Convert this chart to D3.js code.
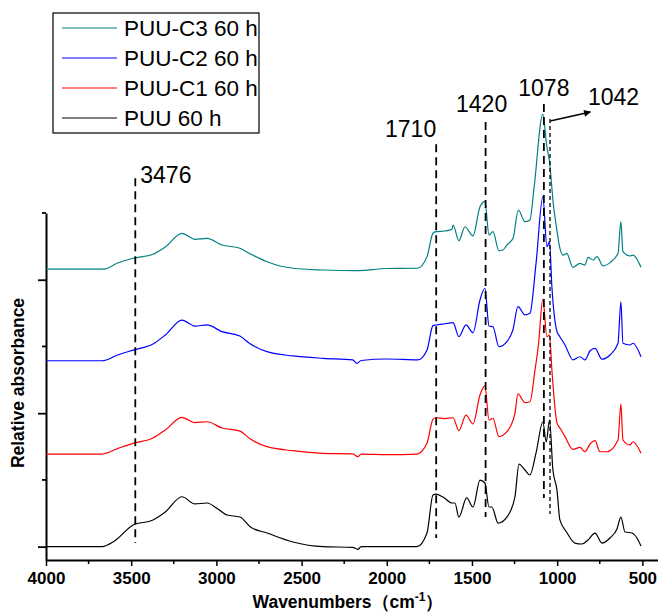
<!DOCTYPE html>
<html>
<head>
<meta charset="utf-8">
<script src="https://cdn.jsdelivr.net/npm/d3@7"></script>
<style>
  body { margin: 0; background: #fff; }
  text { font-family: Arial, "Liberation Sans", Helvetica, sans-serif; }
</style>
</head>
<body>
<svg id="chart" width="658" height="613"></svg>
<script>
/// data ///
// [wavenumber (cm-1), relative absorbance], stacked offsets included
const seriesNames = ["PUU-C3 60 h", "PUU-C2 60 h", "PUU-C1 60 h", "PUU 60 h"];

const puu = [
  [4000, 0.0], [3800, 0.0], [3671, 0.0], [3600, 0.04], [3489, 0.162], [3372, 0.20],
  [3300, 0.26], [3202, 0.374], [3126, 0.32], [3055, 0.327], [3000, 0.29], [2967, 0.26],
  [2938, 0.237], [2862, 0.222], [2800, 0.147], [2703, 0.102], [2551, 0.035], [2374, 0.0],
  [2200, -0.005], [2170, -0.02], [2150, 0.0], [2000, 0.0], [1823, 0.0], [1764, 0.102],
  [1729, 0.387], [1711, 0.394], [1670, 0.372], [1617, 0.327], [1600, 0.327], [1577, 0.222],
  [1531, 0.365], [1494, 0.297], [1453, 0.499], [1424, 0.477], [1400, 0.297], [1383, 0.297],
  [1347, 0.177], [1295, 0.222], [1248, 0.372], [1224, 0.619], [1189, 0.574], [1160, 0.537],
  [1124, 0.702], [1084, 0.934], [1064, 0.784], [1045, 0.949], [1025, 0.574], [1001, 0.424],
  [984, 0.20], [945, 0.11], [896, 0.027], [855, 0.02], [819, 0.05], [778, 0.102],
  [737, 0.027], [690, 0.065], [649, 0.132], [626, 0.222], [602, 0.11], [561, 0.102],
  [532, 0.065], [508, 0.005]
];

const puuC1 = [
  [4000, 0.694], [3671, 0.694], [3580, 0.735], [3489, 0.774], [3372, 0.814], [3300, 0.874],
  [3202, 0.969], [3126, 0.929], [3055, 0.936], [2967, 0.889], [2862, 0.866], [2800, 0.806],
  [2703, 0.749], [2551, 0.719], [2374, 0.699], [2200, 0.695], [2170, 0.674], [2150, 0.694],
  [2000, 0.69], [1823, 0.694], [1764, 0.774], [1729, 0.954], [1711, 0.966], [1660, 0.96],
  [1611, 0.966], [1577, 0.869], [1535, 0.986], [1494, 0.919], [1453, 1.136], [1424, 1.204],
  [1400, 0.949], [1377, 0.962], [1342, 0.824], [1295, 0.861], [1248, 0.999], [1230, 1.144],
  [1189, 1.079], [1160, 1.086], [1130, 1.324], [1110, 1.511], [1084, 1.853], [1060, 1.573],
  [1045, 1.586], [1031, 1.324], [1001, 0.926], [984, 0.889], [954, 0.824], [907, 0.729],
  [866, 0.744], [837, 0.711], [807, 0.769], [778, 0.794], [749, 0.711], [708, 0.711],
  [643, 0.799], [626, 1.069], [614, 0.799], [573, 0.762], [555, 0.786], [508, 0.699]
];

const puuC2 = [
  [4000, 1.393], [3671, 1.393], [3580, 1.436], [3489, 1.473], [3372, 1.518], [3300, 1.586],
  [3202, 1.698], [3126, 1.653], [3055, 1.661], [2967, 1.611], [2862, 1.578], [2800, 1.518],
  [2703, 1.461], [2551, 1.429], [2374, 1.411], [2200, 1.40], [2175, 1.374], [2150, 1.395],
  [2000, 1.406], [1817, 1.399], [1764, 1.473], [1729, 1.656], [1711, 1.661], [1660, 1.67],
  [1611, 1.678], [1577, 1.573], [1535, 1.661], [1494, 1.603], [1453, 1.848], [1424, 1.936],
  [1400, 1.653], [1377, 1.648], [1342, 1.498], [1295, 1.536], [1260, 1.623], [1230, 1.798],
  [1189, 1.736], [1160, 1.748], [1124, 2.123], [1084, 2.622], [1060, 2.247], [1045, 2.285],
  [1031, 1.948], [1001, 1.611], [984, 1.573], [954, 1.511], [907, 1.399], [866, 1.423],
  [837, 1.399], [807, 1.468], [778, 1.486], [737, 1.404], [690, 1.436], [643, 1.524],
  [626, 1.835], [614, 1.524], [573, 1.511], [555, 1.524], [508, 1.423]
];

const puuC3 = [
  [4000, 2.08], [3660, 2.08], [3580, 2.125], [3489, 2.161], [3372, 2.191], [3300, 2.245],
  [3202, 2.348], [3126, 2.303], [3055, 2.31], [2967, 2.26], [2862, 2.236], [2800, 2.193],
  [2703, 2.135], [2551, 2.086], [2374, 2.073], [2175, 2.068], [2000, 2.084], [1820, 2.086],
  [1764, 2.173], [1729, 2.348], [1711, 2.36], [1660, 2.365], [1617, 2.378], [1611, 2.41],
  [1577, 2.292], [1541, 2.397], [1494, 2.328], [1453, 2.547], [1424, 2.585], [1400, 2.335],
  [1377, 2.36], [1342, 2.218], [1318, 2.223], [1295, 2.26], [1259, 2.31], [1228, 2.522],
  [1189, 2.435], [1160, 2.448], [1136, 2.685], [1084, 3.24], [1062, 3.01], [1045, 2.884],
  [1022, 2.56], [1003, 2.385], [988, 2.26], [965, 2.185], [944, 2.198], [907, 2.093],
  [866, 2.123], [837, 2.11], [819, 2.168], [790, 2.148], [766, 2.173], [731, 2.103],
  [690, 2.128], [643, 2.198], [626, 2.435], [614, 2.21], [573, 2.178], [555, 2.185],
  [508, 2.093]
];

const peakLabels = [3476, 1710, 1420, 1078, 1042];
const xTickValues = [4000, 3500, 3000, 2500, 2000, 1500, 1000, 500];
const xMinorTicks = [3750, 3250, 2750, 2250, 1750, 1250, 750];
const yMajorTicks = [0, 1, 2];
const yMinorTicks = [0.5, 1.5, 2.5];

/// constants ///
const width = 658;
const height = 613;
const colours = ["#008080", "#0000ff", "#ff0000", "#000000"];
const seriesData = [puuC3, puuC2, puuC1, puu];

const svg = d3.select("#chart");

/// Scales ///
const xScale = d3.scaleLinear().domain([4000, 400]).range([46, 659.4]);
const yScale = d3.scaleLinear().domain([-0.1, 2.5]).range([560, 213]);

/// Axes ///
const gx = svg.append("g").attr("transform", `translate(0, ${yScale(-0.1)})`);
gx.call(d3.axisBottom(xScale).tickValues(xTickValues).tickFormat(d3.format("d"))
    .tickSize(6).tickSizeOuter(0).tickPadding(6))
  .call(g => g.select(".domain").attr("stroke-width", 2.2))
  .call(g => g.selectAll(".tick line").attr("stroke-width", 1.5))
  .call(g => g.selectAll("text")
    .attr("fill", "#000")
    .attr("font-size", "17px")
    .attr("font-weight", "bold")
    .attr("font-family", "Arial, 'Liberation Sans', sans-serif"));
// minor ticks
gx.selectAll(".minor")
  .data(xMinorTicks)
  .join("line")
  .classed("minor", true)
  .attr("x1", d => xScale(d)).attr("x2", d => xScale(d))
  .attr("y1", 0).attr("y2", 4)
  .attr("stroke", "#000").attr("stroke-width", 1.5);

const gy = svg.append("g").attr("transform", `translate(${xScale(4000)}, 0)`);
gy.call(d3.axisLeft(yScale).tickValues(yMajorTicks).tickSize(8).tickSizeOuter(0).tickFormat(""))
  .call(g => g.select(".domain").attr("stroke-width", 2))
  .call(g => g.selectAll(".tick line").attr("stroke-width", 1.8));
gy.selectAll(".minor")
  .data(yMinorTicks)
  .join("line")
  .classed("minor", true)
  .attr("x1", -4).attr("x2", 0)
  .attr("y1", d => yScale(d)).attr("y2", d => yScale(d))
  .attr("stroke", "#000").attr("stroke-width", 1.8);

// axis titles
const xTitle = svg.append("text")
  .attr("x", 348).attr("y", 608)
  .attr("text-anchor", "middle")
  .attr("font-size", "17.5px")
  .attr("font-weight", "bold");
xTitle.append("tspan").text("Wavenumbers\uFF08cm");
xTitle.append("tspan").text("-1").attr("font-size", "12px").attr("dy", -7);
xTitle.append("tspan").text("\uFF09").attr("dy", 7);

svg.append("text")
  .attr("transform", "translate(24, 383) rotate(-90)")
  .attr("text-anchor", "middle")
  .attr("font-size", "17.5px")
  .attr("font-weight", "bold")
  .text("Relative absorbance");

/// Spectra ///
const line = d3.line()
  .x(d => xScale(d[0]))
  .y(d => yScale(d[1]))
  .curve(d3.curveMonotoneX);

svg.append("g")
  .selectAll("path")
  .data(seriesData)
  .join("path")
  .attr("d", line)
  .attr("fill", "none")
  .attr("stroke", (d, i) => colours[i])
  .attr("stroke-width", 1.2)
  .attr("stroke-linejoin", "round");

/// Peak annotations ///
// dashed extents and label placement (in absorbance units / pixel offsets)
const peakStyle = {
  3476: { top: 2.76, bottom: 0.027, labelY: 2.724, dx: 5, anchor: "start", dash: "8,5", w: 1.8 },
  1710: { top: 3.016, bottom: 0.065, labelY: 3.07, dx: 0, anchor: "end", dash: "8,5", w: 1.8 },
  1420: { top: 3.181, bottom: 0.222, labelY: 3.257, dx: -4, anchor: "middle", dash: "8,5", w: 1.8 },
  1078: { top: 3.316, bottom: 0.364, labelY: 3.377, dx: 0, anchor: "middle", dash: "8,5", w: 1.8 },
  1042: { top: 3.204, bottom: 0.245, labelY: 3.31, dx: 38, anchor: "start", dash: "4,3", w: 1.3 }
};

const gPeaks = svg.append("g");
gPeaks.selectAll("line")
  .data(peakLabels)
  .join("line")
  .attr("x1", d => xScale(d)).attr("x2", d => xScale(d))
  .attr("y1", d => yScale(peakStyle[d].top))
  .attr("y2", d => yScale(peakStyle[d].bottom))
  .attr("stroke", "#000")
  .attr("stroke-width", d => peakStyle[d].w)
  .attr("stroke-dasharray", d => peakStyle[d].dash);

gPeaks.selectAll("text")
  .data(peakLabels)
  .join("text")
  .attr("x", d => xScale(d) + peakStyle[d].dx)
  .attr("y", d => yScale(peakStyle[d].labelY))
  .attr("text-anchor", d => peakStyle[d].anchor)
  .attr("font-size", "23px")
  .attr("fill", "#000")
  .text(d => d);

// arrow pointing to the 1042 label
svg.append("defs").append("marker")
  .attr("id", "arrowhead")
  .attr("viewBox", "0 0 10 10")
  .attr("refX", 9).attr("refY", 5)
  .attr("markerWidth", 9).attr("markerHeight", 7)
  .attr("markerUnits", "userSpaceOnUse")
  .attr("orient", "auto")
  .append("path")
  .attr("d", "M0,0 L10,5 L0,10 Z")
  .attr("fill", "#000");
svg.append("line")
  .attr("x1", xScale(1041)).attr("y1", yScale(3.19))
  .attr("x2", xScale(805)).attr("y2", yScale(3.257))
  .attr("stroke", "#000").attr("stroke-width", 1.5)
  .attr("marker-end", "url(#arrowhead)");

/// Legend ///
const legend = svg.append("g");
legend.append("rect")
  .attr("x", 53).attr("y", 13)
  .attr("width", 206).attr("height", 120)
  .attr("fill", "#fff")
  .attr("stroke", "#000").attr("stroke-width", 1.2);
const items = legend.selectAll(".legend-item")
  .data(seriesNames)
  .join("g")
  .classed("legend-item", true)
  .attr("transform", (d, i) => `translate(62, ${28 + i * 30})`);
items.append("line")
  .attr("x1", 0).attr("x2", 55)
  .attr("stroke", (d, i) => colours[i])
  .attr("stroke-width", 1.2);
items.append("text")
  .attr("x", 62).attr("dy", "0.36em")
  .attr("font-size", "22.5px")
  .text(d => d);
</script>
</body>
</html>
